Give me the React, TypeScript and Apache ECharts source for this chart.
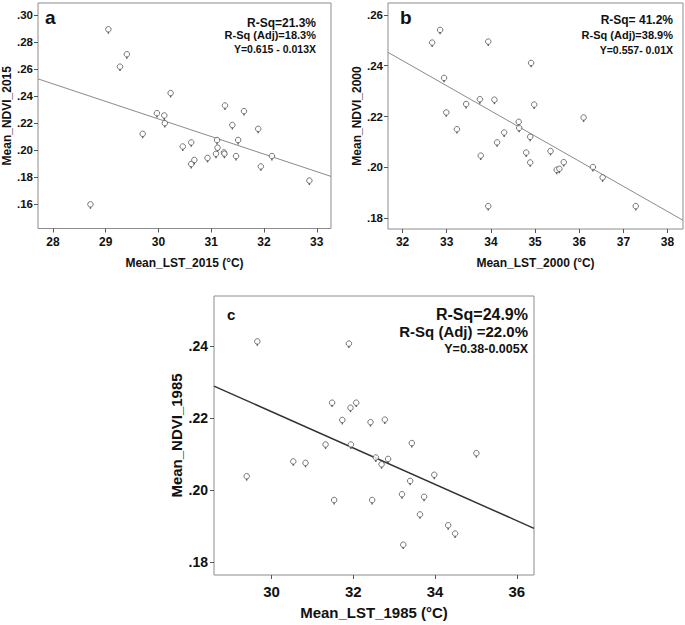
import React, { useEffect, useRef } from "react";
import * as echarts from "echarts";

// Panel a (2015)
const lst2015 = [29.05, 29.27, 29.40, 28.71, 29.70, 29.97, 30.11, 30.12, 30.23, 30.46, 30.62, 30.62, 30.68, 30.93, 31.09, 31.11, 31.12, 31.24, 31.25, 31.26, 31.40, 31.47, 31.51, 31.62, 31.89, 31.94, 32.15, 32.86];
const ndvi2015 = [0.2894, 0.2617, 0.2709, 0.1596, 0.2119, 0.2272, 0.2255, 0.2198, 0.2421, 0.2025, 0.2055, 0.1895, 0.1925, 0.1940, 0.1971, 0.2073, 0.2016, 0.1981, 0.1971, 0.2329, 0.2184, 0.1954, 0.2073, 0.2287, 0.2156, 0.1877, 0.1954, 0.1772];
// Panel b (2000)
const lst2000 = [32.67, 32.85, 32.94, 32.99, 33.23, 33.44, 33.75, 33.77, 33.94, 33.94, 34.08, 34.14, 34.30, 34.63, 34.64, 34.80, 34.89, 34.89, 34.91, 34.98, 35.35, 35.49, 35.55, 35.65, 36.10, 36.31, 36.53, 37.28];
const ndvi2000 = [0.2491, 0.2541, 0.2352, 0.2216, 0.2150, 0.2249, 0.2268, 0.2046, 0.2495, 0.1847, 0.2266, 0.2098, 0.2137, 0.2179, 0.2155, 0.2058, 0.2120, 0.2019, 0.2411, 0.2247, 0.2064, 0.1990, 0.1994, 0.2020, 0.2196, 0.2001, 0.1960, 0.1847];
// Panel c (1985)
const lst1985 = [29.65, 29.39, 30.53, 30.83, 31.32, 31.48, 31.53, 31.73, 31.89, 31.93, 31.94, 32.07, 32.42, 32.46, 32.55, 32.69, 32.77, 32.85, 33.19, 33.22, 33.39, 33.43, 33.63, 33.73, 33.98, 34.32, 34.49, 35.01];
const ndvi1985 = [0.2413, 0.2039, 0.2080, 0.2076, 0.2127, 0.2243, 0.1973, 0.2195, 0.2407, 0.2229, 0.2127, 0.2243, 0.2189, 0.1973, 0.2091, 0.2072, 0.2196, 0.2087, 0.1989, 0.1849, 0.2026, 0.2131, 0.1933, 0.1982, 0.2043, 0.1903, 0.1880, 0.2103];

// Fit lines (intercept, slope) as drawn
const fit2015 = [0.6135, -0.01302];
const fit2000 = [0.5588, -0.0099];
const fit1985 = [0.373, -0.00504];

// Tick labels
const xTicksA = [28, 29, 30, 31, 32, 33];
const yTicksA = [0.16, 0.18, 0.2, 0.22, 0.24, 0.26, 0.28, 0.3];
const xTicksB = [32, 33, 34, 35, 36, 37, 38];
const yTicksB = [0.18, 0.2, 0.22, 0.24, 0.26];
const xTicksC = [30, 32, 34, 36];
const yTicksC = [0.18, 0.2, 0.22, 0.24];

const statsA = ["R-Sq=21.3%", "R-Sq (Adj)=18.3%", "Y=0.615 - 0.013X"];
const statsB = ["R-Sq= 41.2%", "R-Sq (Adj)=38.9%", "Y=0.557- 0.01X"];
const statsC = ["R-Sq=24.9%", "R-Sq (Adj) =22.0%", "Y=0.38-0.005X"];

const FONT = "Liberation Sans, Arial, sans-serif";
const fmtY = (v: number) => v.toFixed(2).replace(/^0/, "");

export default function App() {
  const ref = useRef<HTMLDivElement>(null);
  useEffect(() => {
    if (!ref.current) return;
    const chart = echarts.init(ref.current, undefined, { renderer: "svg" });

    const panels = [
      { grid: { left: 38, top: 3, width: 293, height: 225.5 }, x: [27.716, 33.27], y: [0.1417, 0.3089], xt: xTicksA, yt: yTicksA, xs: lst2015, ys: ndvi2015, fit: fit2015, xn: "Mean_LST_2015 (°C)", yn: "Mean_NDVI_2015", fsx: 12, fsy: 11.5, nfs: 12, xGap: 28, yGap: 22, lineColor: "#8a8a8a", lineW: 1, lblMx: 7, lblMy: 5 },
      { grid: { left: 388, top: 3, width: 295, height: 226 }, x: [31.67, 38.35], y: [0.1757, 0.2647], xt: xTicksB, yt: yTicksB, xs: lst2000, ys: ndvi2000, fit: fit2000, xn: "Mean_LST_2000 (°C)", yn: "Mean_NDVI_2000", fsx: 12, fsy: 11.5, nfs: 12, xGap: 28, yGap: 24, lineColor: "#8a8a8a", lineW: 1, lblMx: 7, lblMy: 5 },
      { grid: { left: 214, top: 296, width: 320, height: 279 }, x: [28.59, 36.42], y: [0.1765, 0.2539], xt: xTicksC, yt: yTicksC, xs: lst1985, ys: ndvi1985, fit: fit1985, xn: "Mean_LST_1985 (°C)", yn: "Mean_NDVI_1985", fsx: 15, fsy: 14, nfs: 15, xGap: 30, yGap: 30, lineColor: "#333333", lineW: 1.5, lblMx: 9, lblMy: 6 },
    ];

    const grids: any[] = [];
    const xAxes: any[] = [];
    const yAxes: any[] = [];
    const series: any[] = [];
    panels.forEach((p, i) => {
      grids.push({ ...p.grid, show: true, borderColor: "#8c8c8c", borderWidth: 1, backgroundColor: "transparent", containLabel: false });
      xAxes.push({
        type: "value", gridIndex: i, min: p.x[0], max: p.x[1],
        axisLine: { show: false },
        splitLine: { show: false },
        axisTick: { show: true, length: 4, lineStyle: { color: "#555" }, customValues: p.xt },
        axisLabel: { show: true, customValues: p.xt, fontFamily: FONT, fontWeight: "bold", fontSize: p.fsx, color: "#111", margin: p.lblMx, formatter: (v: number) => String(v) },
        name: p.xn, nameLocation: "middle", nameGap: p.xGap,
        nameTextStyle: { fontFamily: FONT, fontWeight: "bold", fontSize: p.nfs, color: "#111" },
      });
      yAxes.push({
        type: "value", gridIndex: i, min: p.y[0], max: p.y[1],
        axisLine: { show: false },
        splitLine: { show: false },
        axisTick: { show: true, length: 4, lineStyle: { color: "#555" }, customValues: p.yt },
        axisLabel: { show: true, customValues: p.yt, fontFamily: FONT, fontWeight: "bold", fontSize: p.fsy, color: "#111", margin: p.lblMy, formatter: fmtY },
        name: p.yn, nameLocation: "middle", nameGap: p.yGap, nameRotate: 90,
        nameTextStyle: { fontFamily: FONT, fontWeight: "bold", fontSize: p.nfs, color: "#111" },
      });
      const pts = p.xs.map((x, k) => [x, p.ys[k]]);
      series.push({
        type: "line", xAxisIndex: i, yAxisIndex: i, showSymbol: false, symbol: "none", silent: true,
        lineStyle: { color: p.lineColor, width: p.lineW },
        data: p.x.map((x) => [x, p.fit[0] + p.fit[1] * x]),
        z: 1,
      });
      series.push({
        type: "scatter", xAxisIndex: i, yAxisIndex: i, data: pts,
        symbol: "rect", symbolSize: [1.4, 2.2], symbolOffset: [0, 3.3],
        itemStyle: { color: "#333" }, z: 2,
      });
      series.push({
        type: "scatter", xAxisIndex: i, yAxisIndex: i, data: pts,
        symbol: "circle", symbolSize: 5.5,
        itemStyle: { color: "#fff", borderColor: "#555", borderWidth: 1 }, z: 3,
      });
    });

    const statText = (lines: string[], right: number, ys: number[], sizes: number[]) =>
      lines.map((t, k) => ({
        type: "text", x: right, y: ys[k],
        style: { text: t, align: "right", verticalAlign: "middle", fontFamily: FONT, fontWeight: "bold", fontSize: sizes[k], fill: "#111" },
      }));

    const graphic: any[] = [
      { type: "text", x: 45, y: 17, style: { text: "a", fontFamily: FONT, fontWeight: "bold", fontSize: 19, fill: "#111", verticalAlign: "middle" } },
      { type: "text", x: 400, y: 17, style: { text: "b", fontFamily: FONT, fontWeight: "bold", fontSize: 19, fill: "#111", verticalAlign: "middle" } },
      { type: "text", x: 227, y: 314, style: { text: "c", fontFamily: FONT, fontWeight: "bold", fontSize: 15, fill: "#111", verticalAlign: "middle" } },
      ...statText(statsA, 316, [22.5, 34.5, 49], [12, 11, 10.5]),
      ...statText(statsB, 673, [20, 35, 50], [12, 11, 10.5]),
      ...statText(statsC, 528, [314, 331, 349], [16, 15, 12.5]),
    ];

    chart.setOption({
      animation: false,
      backgroundColor: "#fff",
      grid: grids,
      xAxis: xAxes,
      yAxis: yAxes,
      series,
      graphic,
    });
    return () => chart.dispose();
  }, []);
  return <div ref={ref} style={{ position: "absolute", left: 0, top: 0, width: 685, height: 625 }} />;
}
